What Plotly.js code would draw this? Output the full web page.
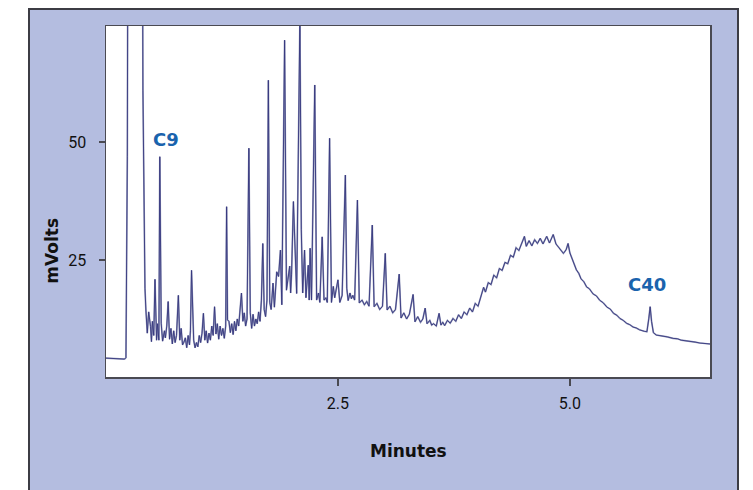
<!DOCTYPE html>
<html>
<head>
<meta charset="utf-8">
<script src="https://cdn.plot.ly/plotly-3.0.1.min.js"></script>
<style>
  html, body { margin: 0; padding: 0; background: #ffffff; overflow: hidden; }
  #panel { position: absolute; left: 28px; top: 8px; width: 711px; height: 520px;
           box-sizing: border-box; background: #b4bde0; border: 2px solid #3c3c44; border-bottom: none; }
  #chart { position: absolute; left: 0; top: 0; width: 753px; height: 490px; }
</style>
</head>
<body>
<div id="panel"></div>
<div id="chart"></div>
<script>
// Retention time (minutes) and detector signal (mV)
const minutes = [
  0.00, 0.20, 0.215, 0.222, 0.23, 0.238, 0.39, 0.398, 0.406, 0.42,
  0.43, 0.445, 0.46, 0.48, 0.49, 0.50, 0.515, 0.528, 0.545, 0.555,
  0.57, 0.58, 0.595, 0.61, 0.63, 0.64, 0.655, 0.67, 0.685, 0.70,
  0.715, 0.73, 0.745, 0.76, 0.78, 0.795, 0.81, 0.825, 0.84, 0.855,
  0.87, 0.885, 0.90, 0.91, 0.922, 0.945, 0.96, 0.975, 0.99, 1.005,
  1.02, 1.035, 1.05, 1.065, 1.08, 1.095, 1.11, 1.125, 1.14, 1.155,
  1.17, 1.185, 1.20, 1.215, 1.23, 1.245, 1.26, 1.275, 1.29, 1.30,
  1.31, 1.325, 1.34, 1.355, 1.37, 1.385, 1.40, 1.415, 1.43, 1.445,
  1.46, 1.475, 1.49, 1.505, 1.52, 1.54, 1.555, 1.57, 1.585, 1.60,
  1.615, 1.63, 1.645, 1.66, 1.675, 1.69, 1.705, 1.72, 1.735, 1.75,
  1.765, 1.78, 1.80, 1.815, 1.84, 1.86, 1.88, 1.895, 1.925, 1.945,
  1.98, 1.99, 2.00, 2.02, 2.04, 2.055, 2.09, 2.105, 2.12, 2.14,
  2.155, 2.18, 2.19, 2.20, 2.215, 2.25, 2.27, 2.29, 2.305, 2.33,
  2.35, 2.37, 2.385, 2.41, 2.43, 2.45, 2.465, 2.50, 2.52, 2.545,
  2.58, 2.595, 2.61, 2.63, 2.645, 2.66, 2.68, 2.71, 2.73, 2.76,
  2.785, 2.81, 2.835, 2.87, 2.89, 2.92, 2.95, 2.98, 3.01, 3.03,
  3.06, 3.09, 3.12, 3.16, 3.18, 3.21, 3.24, 3.27, 3.31, 3.33,
  3.36, 3.39, 3.415, 3.44, 3.46, 3.49, 3.51, 3.53, 3.56, 3.59,
  3.61, 3.63, 3.65, 3.68, 3.71, 3.74, 3.77, 3.80, 3.83, 3.86,
  3.89, 3.92, 3.95, 3.98, 4.01, 4.04, 4.07, 4.09, 4.12, 4.15,
  4.18, 4.21, 4.24, 4.27, 4.30, 4.33, 4.36, 4.39, 4.42, 4.45,
  4.48, 4.51, 4.53, 4.56, 4.59, 4.62, 4.65, 4.68, 4.71, 4.75,
  4.78, 4.82, 4.85, 4.875, 4.90, 4.93, 4.96, 4.98, 5.00, 5.02,
  5.045, 5.07, 5.095, 5.12, 5.15, 5.18, 5.21, 5.25, 5.285, 5.32,
  5.36, 5.40, 5.435, 5.47, 5.505, 5.54, 5.575, 5.61, 5.645, 5.68,
  5.715, 5.75, 5.80, 5.83, 5.85, 5.865, 5.88, 5.90, 5.93, 5.97,
  6.00, 6.05, 6.11, 6.16, 6.20, 6.25, 6.29, 6.35, 6.40, 6.45,
  6.51
];
const mVolts = [
  4.2, 4.0, 4.3, 18, 47, 120, 120, 61, 40, 19,
  14.4, 9.5, 14, 10.9, 7.7, 12, 9, 20.9, 8, 11.5,
  8, 46.9, 11.6, 7.8, 10, 8.5, 11, 16.2, 8.2, 10.5,
  7.2, 10, 7.5, 9, 17.5, 8, 10.5, 7, 7.6, 8.5,
  6.4, 9, 7, 10, 22.8, 8, 6.4, 7.5, 6.6, 9,
  7.5, 9.5, 13.7, 8, 10, 7.4, 9.5, 8, 11, 9,
  15.1, 9.3, 11.5, 8.2, 11, 9, 10.5, 8.4, 11, 36.3,
  12.3, 12, 9.6, 11.5, 9.2, 12, 10, 12.5, 11, 14,
  18, 12, 13.8, 11, 12.5, 48.7, 13.8, 10.5, 13.5, 11,
  12.5, 11.5, 14, 12, 16.5, 28.5, 14.5, 13, 16.5, 63.1,
  16, 14.5, 20.1, 15, 22.5, 21.5, 27.1, 15.5, 71.6, 18.6,
  23.7, 18, 22, 37.4, 24, 17.9, 76, 31.4, 18, 27.1,
  17, 23.9, 16.5, 27.5, 16.5, 62.1, 16.5, 18, 16, 29.9,
  16.5, 17, 16, 50.8, 16, 19.4, 17, 20.8, 16, 17.5,
  43, 19, 16.4, 18, 16.8, 17.5, 16.5, 37.7, 15.9, 16.5,
  15.5, 16.2, 15.2, 32.4, 15.1, 15.8, 14.5, 15.2, 26.4, 14.4,
  15.2, 13.8, 14.5, 22.0, 12.7, 13.8, 12.5, 13.5, 17.7, 11.9,
  13, 11.8, 12.5, 14.8, 11.5, 12.2, 11.2, 11.5, 11, 13.7,
  11.2, 11.8, 11.1, 12.2, 11.6, 12.6, 12, 13.4, 12.6, 14,
  13.4, 14.8, 14, 15.8, 15.2, 17.3, 19.2, 18.2, 20.2, 19.8,
  21.8, 21.2, 23.2, 22.8, 24.5, 24.2, 26, 25.6, 27.6, 27,
  28.4, 30, 27.9, 29.1, 28, 29.3, 28.5, 29.6, 28.4, 30,
  28.6, 30.4, 28.4, 27.8, 27, 26.4, 27.2, 28.5, 26.5, 25.4,
  24.2, 22.9, 22.2, 21, 20.4, 19.3, 18.9, 17.8, 17.4, 16.5,
  15.9, 15, 14.6, 13.7, 13.3, 12.6, 12.2, 11.6, 11.3, 10.8,
  10.6, 10.2, 9.9, 9.8, 12.5, 15.1, 12, 9.6, 9.1, 9.0,
  8.8, 8.7, 8.4, 8.3, 8.0, 7.9, 7.7, 7.6, 7.4, 7.3,
  7.2
];

const xTickVals = [2.5, 5.0];
const xTickText = ["2.5", "5.0"];
const yTickVals = [25, 50];
const yTickText = ["25", "50"];

const peakLabels = ["C9", "C40"];
const peakLabelX = [0.645, 5.83];
const peakLabelY = [50.6, 19.9];

const annotations = peakLabels.map((t, i) => ({
  text: t, x: peakLabelX[i], y: peakLabelY[i], xref: 'x', yref: 'y',
  showarrow: false, xanchor: 'center', yanchor: 'middle',
  font: { family: 'DejaVu Sans', size: 18, color: '#1a63ad', weight: 'bold' }
}));
annotations.push({
  text: '<b>mVolts</b>', xref: 'paper', yref: 'paper', x: -0.0894, y: 0.36,
  showarrow: false, textangle: -90, xanchor: 'center', yanchor: 'middle',
  font: { family: 'DejaVu Sans', size: 17, color: '#111111' }
});
annotations.push({
  text: '<b>Minutes</b>', xref: 'paper', yref: 'paper', x: 0.5, y: -0.211,
  showarrow: false, xanchor: 'center', yanchor: 'middle',
  font: { family: 'DejaVu Sans', size: 17, color: '#111111' }
});

const halo = {
  x: minutes, y: mVolts, type: 'scatter', mode: 'lines',
  line: { color: '#989dbd', width: 1.7 }, hoverinfo: 'skip'
};
const trace = {
  x: minutes, y: mVolts, type: 'scatter', mode: 'lines',
  line: { color: '#36377e', width: 0.9 }, hoverinfo: 'skip'
};

const layout = {
  width: 753, height: 490,
  margin: { l: 106, r: 43, t: 26, b: 113 },
  paper_bgcolor: 'rgba(0,0,0,0)', plot_bgcolor: '#ffffff',
  showlegend: false,
  xaxis: {
    range: [0, 6.51], showgrid: false, zeroline: false,
    showline: true, mirror: true, linecolor: '#4a4a52', linewidth: 1.5,
    ticks: 'outside', ticklen: 7, tickwidth: 1.2, tickcolor: '#4a4a52',
    tickvals: xTickVals, ticktext: xTickText, ticklabelstandoff: 4,
    tickfont: { family: 'Roboto', size: 16, color: '#111111' }
  },
  yaxis: {
    range: [0.2, 74.6], showgrid: false, zeroline: false,
    showline: true, mirror: true, linecolor: '#4a4a52', linewidth: 1.5,
    ticks: 'outside', ticklen: 6, tickwidth: 1.2, tickcolor: '#4a4a52',
    tickvals: yTickVals, ticktext: yTickText, ticklabelstandoff: 9,
    tickfont: { family: 'Roboto', size: 16, color: '#111111' }
  },
  annotations: annotations
};

Plotly.newPlot('chart', [halo, trace], layout, { staticPlot: true, displayModeBar: false });
</script>
</body>
</html>
